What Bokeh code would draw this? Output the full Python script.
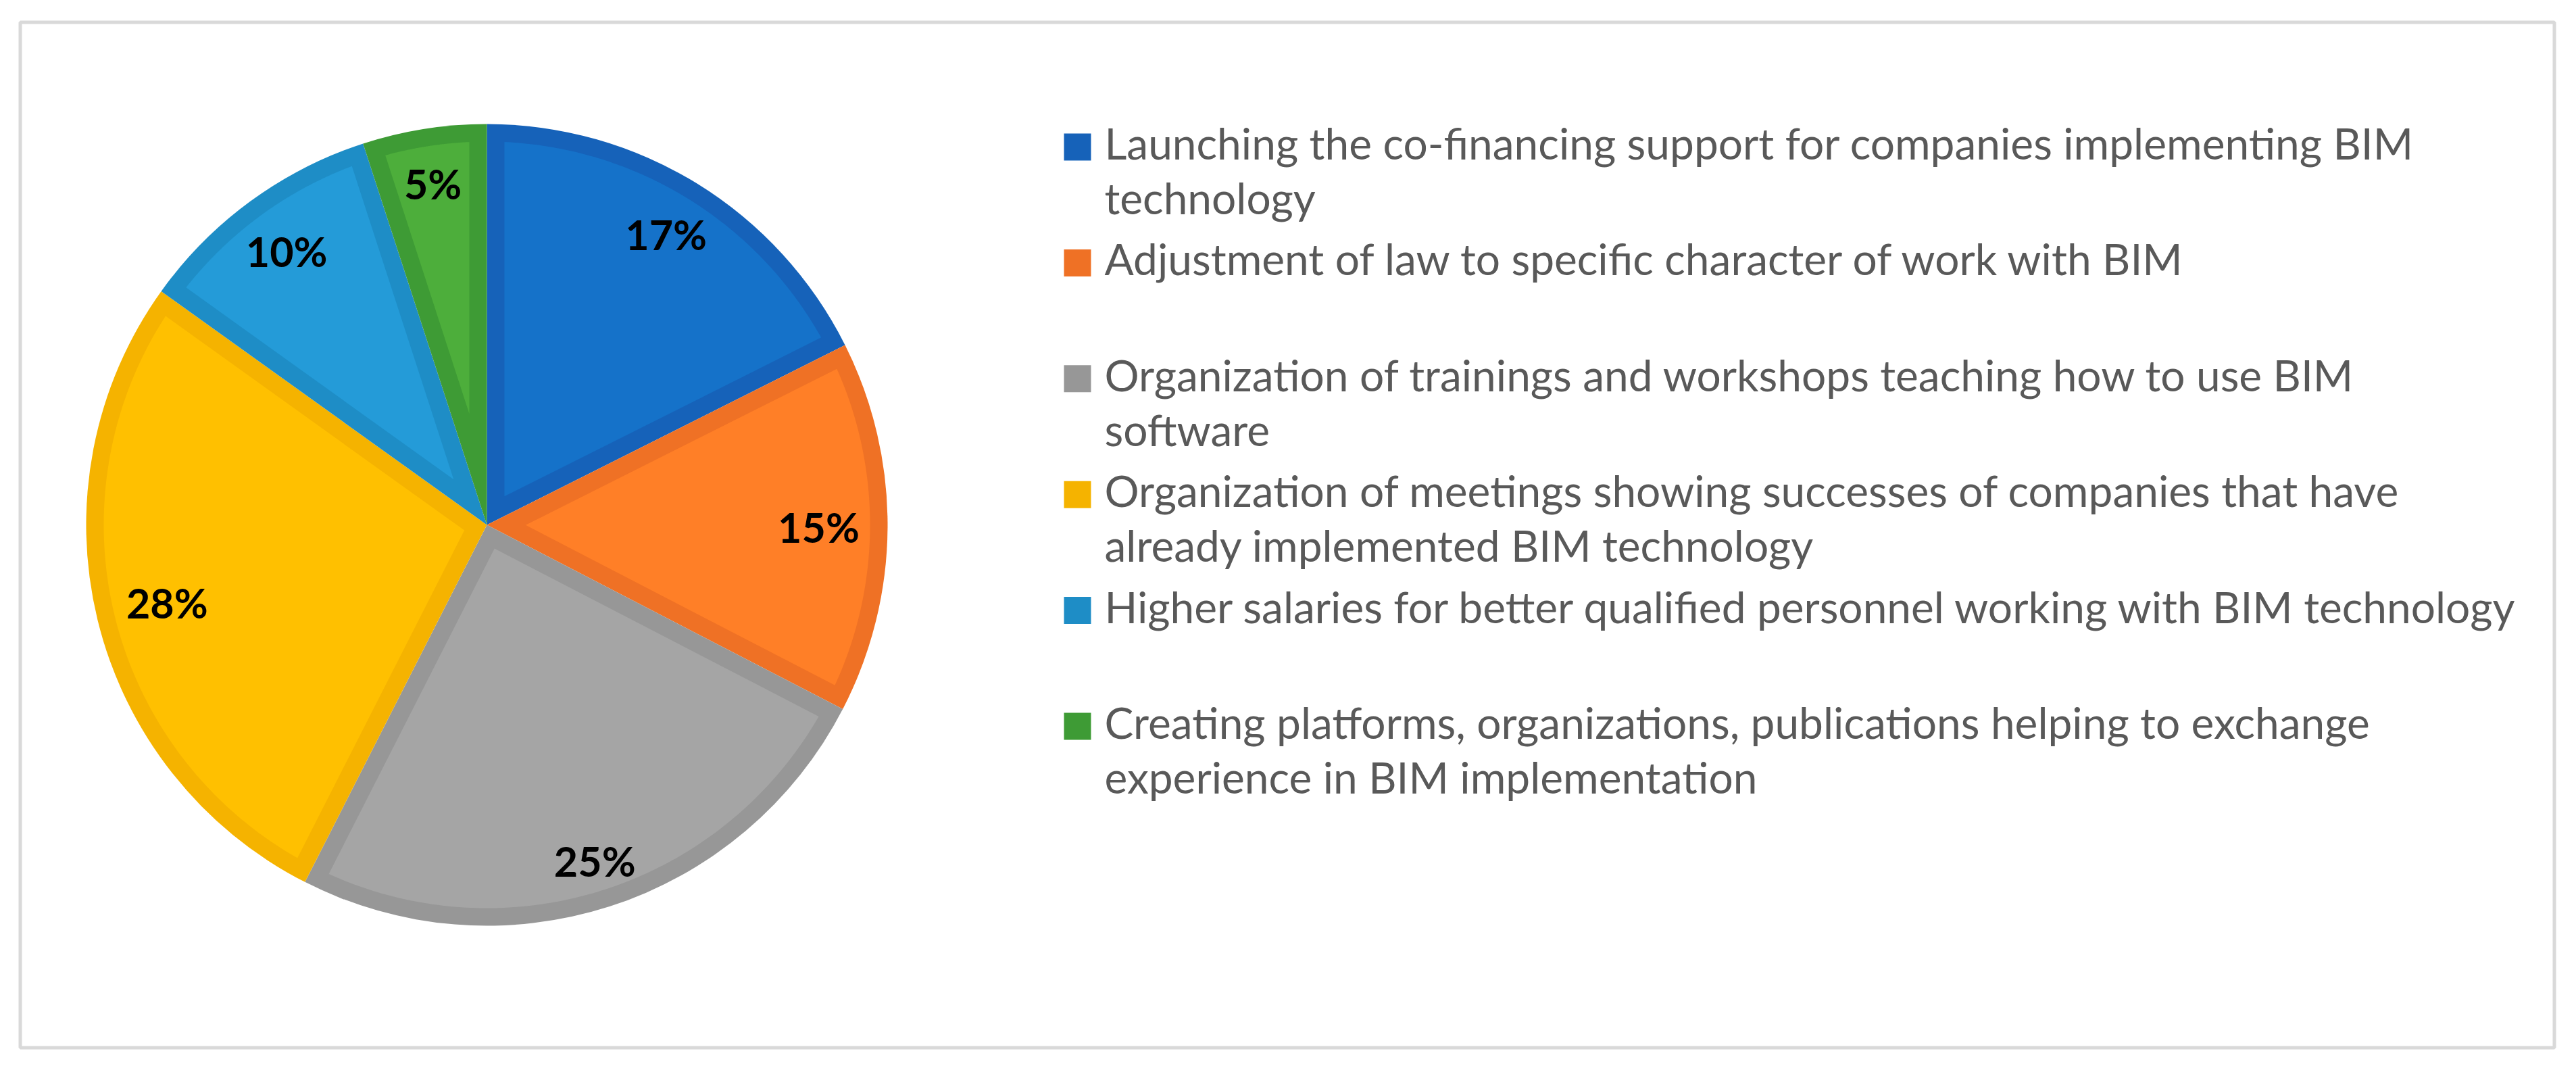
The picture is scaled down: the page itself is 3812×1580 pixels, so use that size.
import numpy as np
from bokeh.plotting import figure
from bokeh.models import Range1d
from bokeh.core.properties import value
from bokeh.embed import file_html
from bokeh.resources import INLINE

# ---------------- data ----------------
categories = [
    "Launching the co-financing support for companies implementing BIM technology",
    "Adjustment of law to specific character of work with BIM",
    "Organization of trainings and workshops teaching how to use BIM software",
    "Organization of meetings showing successes of companies that have already implemented BIM technology",
    "Higher salaries for better qualified personnel working with BIM technology",
    "Creating platforms, organizations, publications helping to exchange experience in BIM implementation",
]
shares = [17.6, 15.0, 24.9, 27.4, 10.1, 5.0]          # slice sizes as drawn (percent)
pct_labels = ["17%", "15%", "25%", "28%", "10%", "5%"]  # data labels as printed

# ---------------- styles / layout ----------------
fill_colors = ["#1572C9", "#FF7F27", "#A5A5A5", "#FFC000", "#249BD8", "#4DAE3B"]
edge_colors = ["#1662B9", "#EF7125", "#979797", "#F5B300", "#1E8DC6", "#3E9B35"]
wrap_after = [8, None, 10, 9, None, 7]

W, H = 3796, 1564
def py(page_y):          # page pixel y -> data y
    return H - page_y

CX, CY, R = 720, py(776), 593
EDGE = 26
label_r = [505, 491, 522, 487, 502, 511]

p = figure(width=W, height=H, x_range=Range1d(0, W), y_range=Range1d(0, H),
           output_backend="svg", toolbar_location=None, min_border=0)
p.axis.visible = False
p.grid.visible = False
p.outline_line_color = None
p.background_fill_color = "white"
p.border_fill_color = "white"

# frame
p.quad(left=29.5, right=3779.5, top=py(32.5), bottom=py(1549.5),
       fill_color=None, line_color="#D9D9D9", line_width=5)

# slices
vals = np.array(shares, dtype=float)
frac = vals / vals.sum()
cum = np.concatenate([[0], np.cumsum(frac)])
a_hi = np.pi / 2 - 2 * np.pi * cum[:-1]   # start (clockwise from 12 o'clock)
a_lo = np.pi / 2 - 2 * np.pi * cum[1:]

p.wedge(x=CX, y=CY, radius=R, start_angle=list(a_lo), end_angle=list(a_hi),
        direction="anticlock", fill_color=edge_colors, line_color=None)

# inner (lighter) part of each slice, inset by EDGE from every side
xs, ys = [], []
Ri = R - EDGE
phi = np.arcsin(EDGE / Ri)
for lo, hi in zip(a_lo, a_hi):
    h = (hi - lo) / 2
    m = (hi + lo) / 2
    d = EDGE / np.sin(h)
    arc = np.linspace(lo + phi, hi - phi, 120)
    px_ = [CX + d * np.cos(m)] + list(CX + Ri * np.cos(arc))
    py_ = [CY + d * np.sin(m)] + list(CY + Ri * np.sin(arc))
    xs.append(px_)
    ys.append(py_)
p.patches(xs=xs, ys=ys, fill_color=fill_colors, line_color=None)

# data labels
mid = (a_hi + a_lo) / 2
lx = CX + np.array(label_r) * np.cos(mid)
ly = CY + np.array(label_r) * np.sin(mid)
p.text(x=list(lx), y=list(ly) , text=pct_labels, text_align="center", text_baseline="middle",
       text_font=value("Lato"), text_font_style="bold", text_font_size="61px", text_color="black")

# legend
SQ_X0, SQ = 1574, 40
first_c, step = 217, 171.4
TX = 1634
LINE = 81
sq_c = [first_c + i * step for i in range(len(categories))]
p.quad(left=SQ_X0, right=SQ_X0 + SQ, top=[py(c - SQ / 2) for c in sq_c],
       bottom=[py(c + SQ / 2) for c in sq_c], fill_color=edge_colors, line_color=None)

tx, ty, tt = [], [], []
for c, cat, wa in zip(sq_c, categories, wrap_after):
    words = cat.split(" ")
    lines = [cat] if wa is None else [" ".join(words[:wa]), " ".join(words[wa:])]
    for k, ln in enumerate(lines):
        tx.append(TX)
        ty.append(py(c - 6 + k * LINE))
        tt.append(ln)
p.text(x=tx, y=ty, text=tt, text_align="left", text_baseline="middle",
       text_font=value("Lato"), text_font_size="64px", text_color="#595959")

open("out.html", "w").write(file_html(p, INLINE))
